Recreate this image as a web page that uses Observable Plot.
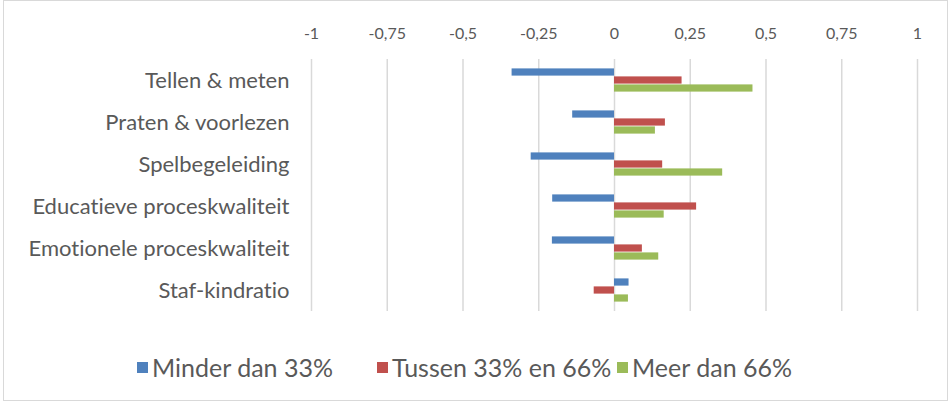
<!DOCTYPE html>
<html>
<head>
<meta charset="utf-8">
<script src="https://cdn.jsdelivr.net/npm/d3@7"></script>
<script src="https://cdn.jsdelivr.net/npm/@observablehq/plot@0.6"></script>
<style>
  html, body { margin: 0; padding: 0; background: #fff; }
  body { width: 950px; height: 404px; position: relative; overflow: hidden; font-family: Lato, "Liberation Sans", sans-serif; font-variant-ligatures: none; }
  svg, svg text { font-variant-ligatures: none; }
  #frame { position: absolute; left: 3px; top: 0; width: 945px; height: 401px; border: 1px solid #d9d9d9; box-sizing: border-box; }
  #chart { position: absolute; left: 0; top: 0; }
  #legend { position: absolute; left: 0; top: 330px; width: 950px; height: 74px; }
  .item { position: absolute; top: 22px; height: 30px; display: flex; align-items: center; color: #595959; font-size: 25px; white-space: nowrap; }
  .sw { width: 11px; height: 11px; margin-right: 4px; }
</style>
</head>
<body>
<div id="frame"></div>
<div id="chart"></div>
<div id="legend"></div>
<script>
const categories = ["Tellen & meten", "Praten & voorlezen", "Spelbegeleiding", "Educatieve proceskwaliteit", "Emotionele proceskwaliteit", "Staf-kindratio"];
const series = ["Minder dan 33%", "Tussen 33% en 66%", "Meer dan 66%"];
const minder = [-0.338, -0.138, -0.275, -0.204, -0.205, 0.048];
const tussen = [0.223, 0.168, 0.159, 0.271, 0.092, -0.067];
const meer = [0.457, 0.135, 0.357, 0.164, 0.146, 0.046];
const colors = ["#4f81bd", "#c0504d", "#9bbb59"];
const xTicks = [-1, -0.75, -0.5, -0.25, 0, 0.25, 0.5, 0.75, 1];
const legendLeft = [137, 377, 617];

const seriesValues = [minder, tussen, meer];
const data = [];
categories.forEach((c, i) => {
  series.forEach((s, j) => data.push({category: c, series: s, value: seriesValues[j][i]}));
});

const plot = Plot.plot({
  width: 950,
  height: 330,
  marginTop: 56,
  marginBottom: 17,
  marginLeft: 311,
  marginRight: 33,
  style: {fontFamily: "Lato, 'Liberation Sans', sans-serif", fontSize: "16px", color: "#595959", background: "transparent"},
  x: {domain: [-1, 1], axis: "top", ticks: xTicks, tickFormat: d => String(d).replace(".", ","), tickSize: 0, tickPadding: 21, label: null},
  y: {domain: series, axis: null, paddingInner: 0, paddingOuter: 1},
  fy: {domain: categories, padding: 0, axis: "left", label: null, tickSize: 0, tickPadding: 22},
  color: {domain: series, range: colors},
  facet: {data, y: "category"},
  marks: [
    Plot.ruleX(xTicks, {stroke: "#d9d9d9", strokeWidth: 1.5}),
    Plot.barX(data, {x: "value", y: "series", fill: "series", insetTop: 0.4, insetBottom: 0.4})
  ]
});
document.getElementById("chart").appendChild(plot);
d3.select(plot).selectAll("text").style("font-variant-ligatures", "none");
d3.select(plot).selectAll('g[aria-label^="fy-axis"] text').style("font-size", "22px").attr("fill", "#595959");
d3.select(plot).selectAll('g[aria-label^="x-axis"] text').attr("fill", "#595959");

const legend = document.getElementById("legend");
series.forEach((s, i) => {
  const item = document.createElement("div");
  item.className = "item";
  item.style.left = legendLeft[i] + "px";
  const sw = document.createElement("div");
  sw.className = "sw";
  sw.style.background = colors[i];
  const t = document.createElement("span");
  t.textContent = s;
  item.appendChild(sw);
  item.appendChild(t);
  legend.appendChild(item);
});
</script>
</body>
</html>
